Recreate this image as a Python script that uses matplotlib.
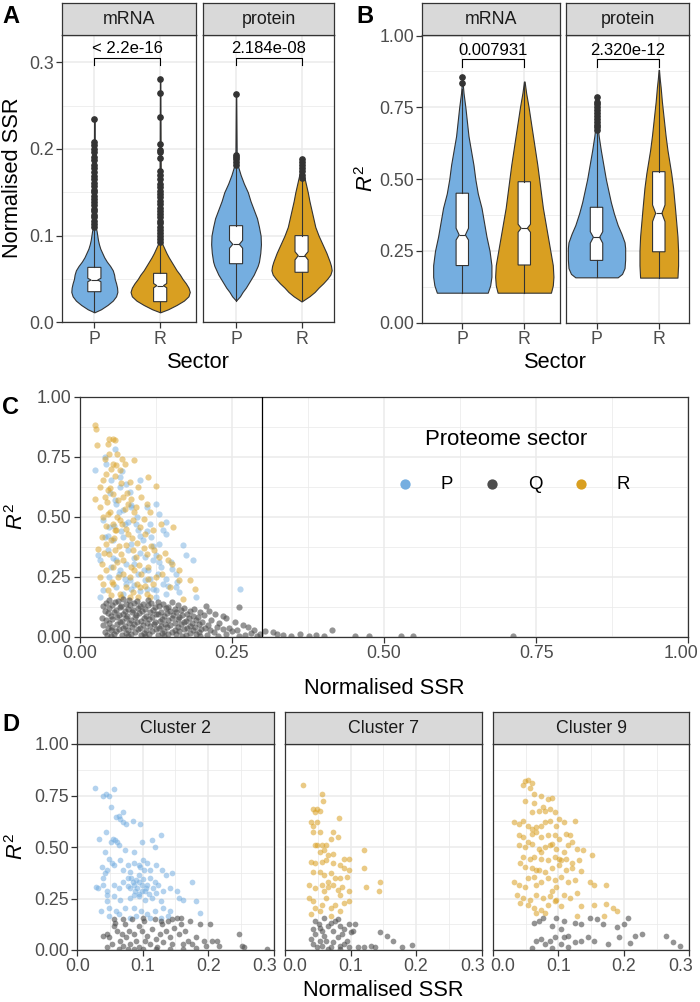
import matplotlib.pyplot as plt
from matplotlib.transforms import ScaledTranslation

plt.rcParams['font.family'] = ['Liberation Sans', 'DejaVu Sans']
plt.rcParams['mathtext.fontset'] = 'custom'
plt.rcParams['mathtext.rm'] = 'Liberation Sans'
plt.rcParams['mathtext.it'] = 'Liberation Sans:italic'

BLUE = '#75AEE0'
GOLD = '#D99F21'
QGREY = '#4D4D4D'
EDGE = '#333333'

# ---------------- data ----------------
sectors = ['P', 'R']
facets = ['mRNA', 'protein']
clusters = ['Cluster 2', 'Cluster 7', 'Cluster 9']

# violin profiles: (y levels, half widths in category units)
ssr_mrna_p_y = [0.0115, 0.015, 0.02, 0.025, 0.03, 0.035, 0.04, 0.045, 0.05, 0.055, 0.06, 0.065, 0.07,
                0.075, 0.08, 0.085, 0.09, 0.095, 0.10, 0.105, 0.11, 0.13, 0.17, 0.234]
ssr_mrna_p_w = [0.0, 0.10, 0.20, 0.28, 0.33, 0.35, 0.345, 0.33, 0.31, 0.30, 0.28, 0.24, 0.19,
                0.15, 0.12, 0.09, 0.07, 0.055, 0.045, 0.035, 0.02, 0.012, 0.008, 0.004]
ssr_mrna_r_y = [0.0115, 0.015, 0.02, 0.025, 0.03, 0.035, 0.04, 0.045, 0.05, 0.055, 0.06, 0.065, 0.07,
                0.075, 0.08, 0.085, 0.09, 0.095, 0.12, 0.2, 0.281]
ssr_mrna_r_w = [0.0, 0.12, 0.25, 0.36, 0.43, 0.45, 0.43, 0.39, 0.34, 0.30, 0.25, 0.21, 0.17,
                0.13, 0.095, 0.065, 0.035, 0.02, 0.012, 0.007, 0.003]
ssr_prot_p_y = [0.025, 0.03, 0.035, 0.04, 0.045, 0.05, 0.055, 0.06, 0.065, 0.07, 0.08, 0.09, 0.10,
                0.11, 0.12, 0.13, 0.14, 0.15, 0.16, 0.17, 0.18, 0.19, 0.263]
ssr_prot_p_w = [0.0, 0.06, 0.10, 0.15, 0.19, 0.23, 0.27, 0.30, 0.33, 0.35, 0.37, 0.38, 0.375,
                0.35, 0.32, 0.27, 0.22, 0.18, 0.12, 0.07, 0.03, 0.01, 0.003]
ssr_prot_r_y = [0.024, 0.03, 0.035, 0.04, 0.045, 0.05, 0.055, 0.06, 0.065, 0.07, 0.08, 0.09, 0.10,
                0.11, 0.12, 0.13, 0.14, 0.15, 0.16, 0.17, 0.18, 0.188]
ssr_prot_r_w = [0.0, 0.12, 0.20, 0.26, 0.33, 0.39, 0.44, 0.46, 0.45, 0.43, 0.38, 0.32, 0.26,
                0.21, 0.18, 0.15, 0.12, 0.095, 0.065, 0.035, 0.015, 0.005]

r2_mrna_p_y = [0.1045, 0.13, 0.16, 0.20, 0.25, 0.30, 0.35, 0.40, 0.45, 0.50, 0.55, 0.60, 0.65,
               0.70, 0.75, 0.80, 0.83, 0.855]
r2_mrna_p_w = [0.41, 0.45, 0.47, 0.47, 0.44, 0.39, 0.35, 0.31, 0.25, 0.21, 0.18, 0.14, 0.10,
               0.075, 0.05, 0.02, 0.008, 0.003]
r2_mrna_r_y = [0.1045, 0.13, 0.16, 0.20, 0.25, 0.30, 0.35, 0.40, 0.45, 0.50, 0.55, 0.60, 0.65,
               0.70, 0.75, 0.80, 0.84]
r2_mrna_r_w = [0.43, 0.46, 0.47, 0.46, 0.42, 0.38, 0.34, 0.30, 0.27, 0.24, 0.21, 0.175, 0.14,
               0.105, 0.07, 0.03, 0.005]
r2_prot_p_y = [0.158, 0.17, 0.19, 0.22, 0.26, 0.28, 0.31, 0.34, 0.38, 0.42, 0.46, 0.50, 0.55,
               0.60, 0.65, 0.68, 0.72, 0.785]
r2_prot_p_w = [0.34, 0.41, 0.45, 0.46, 0.46, 0.45, 0.40, 0.34, 0.28, 0.23, 0.19, 0.15, 0.11,
               0.07, 0.035, 0.02, 0.01, 0.005]
r2_prot_r_y = [0.157, 0.20, 0.25, 0.30, 0.35, 0.40, 0.47, 0.52, 0.56, 0.60, 0.65, 0.70, 0.77,
               0.82, 0.85, 0.88]
r2_prot_r_w = [0.30, 0.31, 0.31, 0.30, 0.28, 0.26, 0.23, 0.20, 0.17, 0.14, 0.11, 0.085, 0.05,
               0.03, 0.015, 0.003]

# box stats: whislo, q1, med, q3, whishi, notch low, notch high
ssr_mrna_p_box = [0.0115, 0.0353, 0.0488, 0.0634, 0.108, 0.0468, 0.0508]
ssr_mrna_r_box = [0.012, 0.0238, 0.0423, 0.0565, 0.092, 0.0398, 0.0448]
ssr_prot_p_box = [0.025, 0.0676, 0.090, 0.1115, 0.178, 0.0855, 0.0945]
ssr_prot_r_box = [0.024, 0.0577, 0.0769, 0.100, 0.164, 0.0720, 0.0815]
r2_mrna_p_box = [0.1045, 0.199, 0.3056, 0.451, 0.815, 0.288, 0.329]
r2_mrna_r_box = [0.1045, 0.201, 0.329, 0.491, 0.84, 0.315, 0.343]
r2_prot_p_box = [0.158, 0.217, 0.2975, 0.402, 0.66, 0.277, 0.317]
r2_prot_r_box = [0.157, 0.247, 0.381, 0.526, 0.88, 0.352, 0.41]

ssr_mrna_p_out = [0.110, 0.113, 0.117, 0.121, 0.124, 0.128, 0.131, 0.135, 0.139, 0.142, 0.146, 0.150,
                  0.153, 0.157, 0.161, 0.165, 0.169, 0.173, 0.178, 0.182, 0.187, 0.191, 0.196, 0.200,
                  0.205, 0.208, 0.234]
ssr_mrna_r_out = [0.093, 0.096, 0.100, 0.103, 0.107, 0.110, 0.114, 0.117, 0.121, 0.125, 0.128, 0.132,
                  0.136, 0.140, 0.144, 0.148, 0.152, 0.156, 0.160, 0.165, 0.170, 0.175, 0.190, 0.196,
                  0.199, 0.206, 0.237, 0.264, 0.281]
ssr_prot_p_out = [0.182, 0.185, 0.188, 0.191, 0.193, 0.263]
ssr_prot_r_out = [0.166, 0.170, 0.174, 0.178, 0.182, 0.185, 0.188]
r2_mrna_p_out = [0.835, 0.855]
r2_mrna_r_out = []
r2_prot_p_out = [0.67, 0.68, 0.69, 0.70, 0.71, 0.72, 0.73, 0.74, 0.75, 0.76, 0.77, 0.785]
r2_prot_r_out = []

ssr_pvals = ['< 2.2e-16', '2.184e-08']
r2_pvals = ['0.007931', '2.320e-12']

# panel C scatter (normalised SSR, R^2)
c_p = [(0.058, 0.783), (0.041, 0.749), (0.025, 0.696), (0.044, 0.721), (0.066, 0.665), (0.077, 0.638),
       (0.099, 0.651), (0.052, 0.651), (0.066, 0.624), (0.082, 0.603), (0.060, 0.554), (0.071, 0.526),
       (0.085, 0.540), (0.110, 0.540), (0.126, 0.554), (0.131, 0.513), (0.142, 0.478), (0.038, 0.485),
       (0.049, 0.457), (0.074, 0.471), (0.096, 0.443), (0.115, 0.471), (0.137, 0.443), (0.041, 0.415),
       (0.055, 0.401), (0.071, 0.415), (0.085, 0.388), (0.104, 0.401), (0.118, 0.415), (0.131, 0.388),
       (0.142, 0.429), (0.170, 0.381), (0.030, 0.339), (0.047, 0.360), (0.060, 0.318), (0.077, 0.304),
       (0.090, 0.304), (0.107, 0.332), (0.120, 0.318), (0.134, 0.290), (0.151, 0.283), (0.175, 0.339),
       (0.186, 0.318), (0.033, 0.318), (0.052, 0.290), (0.066, 0.276), (0.082, 0.235), (0.096, 0.263),
       (0.112, 0.276), (0.129, 0.263), (0.142, 0.242), (0.159, 0.263), (0.038, 0.193), (0.060, 0.207),
       (0.077, 0.221), (0.090, 0.214), (0.107, 0.235), (0.126, 0.193), (0.137, 0.221), (0.159, 0.207),
       (0.192, 0.165), (0.263, 0.200), (0.049, 0.249), (0.071, 0.179), (0.110, 0.200), (0.142, 0.179),
       (0.126, 0.165), (0.164, 0.186), (0.033, 0.165), (0.050, 0.600), (0.058, 0.570), (0.065, 0.520),
       (0.080, 0.480), (0.092, 0.470), (0.100, 0.420), (0.110, 0.440), (0.120, 0.380), (0.125, 0.340),
       (0.130, 0.310), (0.100, 0.350), (0.090, 0.330), (0.080, 0.360), (0.068, 0.440), (0.057, 0.460),
       (0.046, 0.420), (0.055, 0.330), (0.065, 0.260), (0.075, 0.240), (0.085, 0.200), (0.100, 0.190),
       (0.115, 0.240), (0.120, 0.200), (0.145, 0.210), (0.150, 0.310), (0.160, 0.230), (0.105, 0.280),
       (0.095, 0.500), (0.085, 0.550), (0.070, 0.690)]
c_r = [(0.025, 0.881), (0.027, 0.867), (0.028, 0.797), (0.049, 0.825), (0.055, 0.825), (0.058, 0.818),
       (0.047, 0.804), (0.090, 0.735), (0.041, 0.742), (0.025, 0.575), (0.033, 0.624), (0.038, 0.651),
       (0.044, 0.679), (0.052, 0.700), (0.060, 0.714), (0.066, 0.693), (0.074, 0.721), (0.082, 0.644),
       (0.096, 0.624), (0.112, 0.665), (0.126, 0.626), (0.033, 0.540), (0.041, 0.582), (0.047, 0.610),
       (0.055, 0.596), (0.063, 0.568), (0.071, 0.582), (0.079, 0.554), (0.085, 0.575), (0.093, 0.540),
       (0.101, 0.582), (0.110, 0.554), (0.115, 0.519), (0.038, 0.499), (0.047, 0.513), (0.055, 0.471),
       (0.060, 0.443), (0.066, 0.485), (0.077, 0.450), (0.088, 0.485), (0.099, 0.457), (0.107, 0.429),
       (0.120, 0.443), (0.134, 0.471), (0.153, 0.457), (0.036, 0.415), (0.044, 0.388), (0.052, 0.401),
       (0.058, 0.360), (0.068, 0.346), (0.077, 0.381), (0.088, 0.360), (0.093, 0.332), (0.110, 0.346),
       (0.123, 0.360), (0.131, 0.332), (0.145, 0.318), (0.151, 0.304), (0.164, 0.276), (0.036, 0.304),
       (0.044, 0.276), (0.055, 0.290), (0.063, 0.249), (0.071, 0.263), (0.082, 0.249), (0.090, 0.276),
       (0.101, 0.263), (0.112, 0.242), (0.126, 0.249), (0.148, 0.207), (0.164, 0.238), (0.181, 0.238),
       (0.189, 0.200), (0.038, 0.221), (0.047, 0.193), (0.055, 0.221), (0.066, 0.179), (0.077, 0.207),
       (0.088, 0.186), (0.099, 0.207), (0.110, 0.179), (0.120, 0.221), (0.030, 0.367), (0.049, 0.346),
       (0.068, 0.165), (0.082, 0.165), (0.096, 0.165), (0.115, 0.165), (0.170, 0.158), (0.052, 0.172),
       (0.058, 0.443), (0.033, 0.249), (0.045, 0.560), (0.050, 0.520), (0.062, 0.500), (0.070, 0.470),
       (0.075, 0.530), (0.080, 0.430), (0.086, 0.410), (0.095, 0.390), (0.105, 0.370), (0.057, 0.410),
       (0.064, 0.380), (0.072, 0.320), (0.085, 0.290), (0.098, 0.300), (0.113, 0.290), (0.118, 0.380),
       (0.105, 0.490), (0.090, 0.520), (0.078, 0.600), (0.068, 0.640), (0.058, 0.670), (0.050, 0.620),
       (0.043, 0.460), (0.040, 0.350), (0.053, 0.230), (0.062, 0.310), (0.094, 0.220), (0.108, 0.210),
       (0.135, 0.260), (0.140, 0.350), (0.048, 0.760), (0.062, 0.760), (0.070, 0.740), (0.055, 0.720)]
c_q = [(0.048, 0.152), (0.063, 0.147), (0.081, 0.155), (0.094, 0.149), (0.112, 0.153), (0.128, 0.146),
       (0.071, 0.158), (0.043, 0.139), (0.058, 0.143), (0.076, 0.137), (0.089, 0.142), (0.104, 0.136),
       (0.118, 0.141), (0.137, 0.138), (0.152, 0.144), (0.039, 0.128), (0.054, 0.132), (0.068, 0.126),
       (0.083, 0.131), (0.099, 0.127), (0.113, 0.133), (0.131, 0.129), (0.146, 0.125), (0.162, 0.132),
       (0.207, 0.128), (0.049, 0.118), (0.066, 0.122), (0.079, 0.116), (0.096, 0.121), (0.108, 0.117),
       (0.124, 0.123), (0.142, 0.119), (0.157, 0.115), (0.171, 0.121), (0.188, 0.117), (0.262, 0.124),
       (0.041, 0.108), (0.059, 0.112), (0.074, 0.106), (0.088, 0.111), (0.103, 0.107), (0.121, 0.113),
       (0.134, 0.105), (0.149, 0.109), (0.166, 0.112), (0.182, 0.106), (0.212, 0.109), (0.046, 0.098),
       (0.056, 0.102), (0.071, 0.096), (0.086, 0.101), (0.098, 0.097), (0.116, 0.103), (0.129, 0.095),
       (0.144, 0.099), (0.159, 0.102), (0.176, 0.096), (0.198, 0.101), (0.223, 0.094), (0.051, 0.088),
       (0.064, 0.092), (0.078, 0.086), (0.093, 0.091), (0.109, 0.087), (0.126, 0.093), (0.139, 0.085),
       (0.154, 0.089), (0.169, 0.092), (0.186, 0.086), (0.204, 0.091), (0.235, 0.088), (0.036, 0.078),
       (0.061, 0.082), (0.076, 0.076), (0.091, 0.081), (0.106, 0.077), (0.119, 0.083), (0.136, 0.075),
       (0.151, 0.079), (0.164, 0.082), (0.179, 0.076), (0.194, 0.081), (0.241, 0.077), (0.044, 0.068),
       (0.053, 0.072), (0.069, 0.066), (0.084, 0.071), (0.101, 0.067), (0.114, 0.073), (0.132, 0.065),
       (0.146, 0.069), (0.161, 0.072), (0.174, 0.066), (0.191, 0.071), (0.216, 0.068), (0.049, 0.058),
       (0.066, 0.062), (0.081, 0.056), (0.094, 0.061), (0.111, 0.057), (0.124, 0.063), (0.141, 0.055),
       (0.156, 0.059), (0.172, 0.062), (0.184, 0.056), (0.201, 0.061), (0.229, 0.058), (0.256, 0.062),
       (0.039, 0.048), (0.061, 0.052), (0.074, 0.046), (0.089, 0.051), (0.104, 0.047), (0.122, 0.053),
       (0.134, 0.045), (0.149, 0.049), (0.166, 0.052), (0.181, 0.046), (0.196, 0.051), (0.211, 0.048),
       (0.268, 0.047), (0.046, 0.038), (0.054, 0.042), (0.071, 0.036), (0.086, 0.041), (0.099, 0.037),
       (0.116, 0.043), (0.131, 0.035), (0.144, 0.039), (0.161, 0.042), (0.176, 0.036), (0.189, 0.041),
       (0.206, 0.038), (0.226, 0.042), (0.246, 0.036), (0.276, 0.039), (0.051, 0.028), (0.064, 0.032),
       (0.079, 0.026), (0.096, 0.031), (0.109, 0.027), (0.126, 0.033), (0.139, 0.025), (0.156, 0.029),
       (0.171, 0.032), (0.186, 0.026), (0.199, 0.031), (0.214, 0.028), (0.236, 0.032), (0.259, 0.027),
       (0.286, 0.030), (0.305, 0.025), (0.041, 0.018), (0.059, 0.022), (0.076, 0.016), (0.091, 0.021),
       (0.106, 0.017), (0.119, 0.023), (0.136, 0.015), (0.151, 0.019), (0.164, 0.022), (0.181, 0.016),
       (0.196, 0.021), (0.221, 0.018), (0.251, 0.022), (0.281, 0.017), (0.318, 0.020), (0.325, 0.012),
       (0.045, 0.009), (0.056, 0.012), (0.069, 0.007), (0.084, 0.011), (0.101, 0.008), (0.114, 0.012),
       (0.129, 0.006), (0.146, 0.010), (0.159, 0.012), (0.174, 0.007), (0.191, 0.011), (0.209, 0.008),
       (0.241, 0.011), (0.271, 0.007), (0.296, 0.010), (0.334, 0.008), (0.362, 0.011), (0.388, 0.007),
       (0.415, 0.030), (0.052, 0.002), (0.079, 0.003), (0.108, 0.002), (0.138, 0.003), (0.168, 0.002),
       (0.198, 0.003), (0.228, 0.002), (0.262, 0.003), (0.291, 0.002), (0.348, 0.003), (0.376, 0.002),
       (0.402, 0.003), (0.452, 0.002), (0.476, 0.004), (0.528, 0.003), (0.548, 0.002), (0.712, 0.002)]
c_cutoff = 0.3

# panel D scatter, one coloured and one Q list per cluster
d2_sector = [(0.027, 0.788), (0.039, 0.748), (0.044, 0.756), (0.049, 0.748), (0.056, 0.783), (0.051, 0.692),
             (0.059, 0.644), (0.063, 0.652), (0.066, 0.636), (0.070, 0.668), (0.070, 0.620), (0.074, 0.612),
             (0.085, 0.628), (0.096, 0.612), (0.033, 0.540), (0.044, 0.572), (0.054, 0.540), (0.058, 0.532),
             (0.061, 0.524), (0.051, 0.524), (0.063, 0.508), (0.073, 0.484), (0.087, 0.476), (0.099, 0.524),
             (0.114, 0.532), (0.118, 0.500), (0.128, 0.556), (0.042, 0.476), (0.049, 0.444), (0.053, 0.420),
             (0.038, 0.404), (0.046, 0.388), (0.040, 0.348), (0.056, 0.412), (0.065, 0.436), (0.070, 0.388),
             (0.077, 0.412), (0.080, 0.380), (0.087, 0.420), (0.094, 0.412), (0.100, 0.436), (0.107, 0.420),
             (0.096, 0.404), (0.102, 0.388), (0.111, 0.388), (0.121, 0.412), (0.129, 0.388), (0.136, 0.364),
             (0.145, 0.372), (0.039, 0.316), (0.029, 0.308), (0.032, 0.300), (0.046, 0.284), (0.056, 0.316),
             (0.063, 0.300), (0.070, 0.332), (0.077, 0.348), (0.080, 0.300), (0.087, 0.316), (0.094, 0.332),
             (0.099, 0.316), (0.104, 0.284), (0.111, 0.348), (0.118, 0.332), (0.124, 0.316), (0.131, 0.284),
             (0.141, 0.300), (0.152, 0.284), (0.155, 0.252), (0.128, 0.236), (0.114, 0.252), (0.104, 0.244),
             (0.094, 0.260), (0.087, 0.268), (0.080, 0.252), (0.066, 0.244), (0.056, 0.260), (0.046, 0.268),
             (0.036, 0.188), (0.049, 0.204), (0.059, 0.188), (0.073, 0.204), (0.087, 0.204), (0.097, 0.188),
             (0.107, 0.173), (0.118, 0.188), (0.131, 0.204), (0.141, 0.188), (0.182, 0.240), (0.188, 0.181),
             (0.162, 0.244), (0.176, 0.329), (0.049, 0.165), (0.063, 0.173), (0.080, 0.157), (0.090, 0.165),
             (0.111, 0.157), (0.128, 0.157), (0.138, 0.165), (0.046, 0.236), (0.042, 0.372), (0.094, 0.364),
             (0.099, 0.284), (0.121, 0.276), (0.107, 0.316), (0.090, 0.340), (0.085, 0.330), (0.092, 0.300),
             (0.100, 0.345), (0.105, 0.300), (0.088, 0.285), (0.095, 0.270), (0.078, 0.310), (0.110, 0.270),
             (0.115, 0.300), (0.082, 0.350)]
d2_q = [(0.040, 0.069), (0.046, 0.077), (0.049, 0.061), (0.053, 0.029), (0.056, 0.117), (0.058, 0.133),
        (0.061, 0.093), (0.065, 0.045), (0.068, 0.077), (0.070, 0.021), (0.073, 0.125), (0.075, 0.061),
        (0.079, 0.093), (0.081, 0.029), (0.083, 0.149), (0.087, 0.077), (0.090, 0.045), (0.094, 0.117),
        (0.095, 0.013), (0.099, 0.093), (0.102, 0.141), (0.104, 0.045), (0.107, 0.069), (0.111, 0.029),
        (0.114, 0.101), (0.118, 0.149), (0.120, 0.053), (0.122, 0.013), (0.126, 0.077), (0.129, 0.125),
        (0.131, 0.037), (0.135, 0.093), (0.138, 0.141), (0.141, 0.061), (0.145, 0.029), (0.148, 0.109),
        (0.152, 0.157), (0.155, 0.077), (0.159, 0.125), (0.162, 0.029), (0.165, 0.093), (0.169, 0.045),
        (0.172, 0.141), (0.176, 0.029), (0.182, 0.061), (0.188, 0.125), (0.193, 0.045), (0.196, 0.021),
        (0.203, 0.125), (0.206, 0.045), (0.213, 0.045), (0.217, 0.021), (0.247, 0.077), (0.251, 0.021),
        (0.254, 0.016), (0.290, 0.005), (0.046, 0.013), (0.063, 0.005), (0.077, 0.005), (0.087, 0.005),
        (0.100, 0.005), (0.121, 0.005), (0.141, 0.005), (0.162, 0.005), (0.182, 0.010), (0.056, 0.149),
        (0.070, 0.149), (0.100, 0.157), (0.145, 0.149), (0.159, 0.153), (0.128, 0.141)]
d7_sector = [(0.027, 0.799), (0.056, 0.756), (0.058, 0.724), (0.042, 0.684), (0.049, 0.684), (0.046, 0.668),
             (0.053, 0.676), (0.082, 0.639), (0.039, 0.620), (0.042, 0.604), (0.049, 0.620), (0.053, 0.572),
             (0.042, 0.572), (0.073, 0.572), (0.046, 0.508), (0.049, 0.508), (0.056, 0.508), (0.063, 0.508),
             (0.070, 0.540), (0.080, 0.548), (0.053, 0.476), (0.059, 0.484), (0.066, 0.460), (0.073, 0.468),
             (0.090, 0.444), (0.097, 0.444), (0.121, 0.484), (0.039, 0.428), (0.046, 0.420), (0.056, 0.428),
             (0.063, 0.436), (0.073, 0.420), (0.083, 0.412), (0.090, 0.396), (0.097, 0.388), (0.121, 0.396),
             (0.042, 0.380), (0.053, 0.380), (0.059, 0.364), (0.070, 0.372), (0.076, 0.348), (0.083, 0.348),
             (0.094, 0.356), (0.145, 0.329), (0.143, 0.288), (0.124, 0.308), (0.036, 0.316), (0.046, 0.300),
             (0.056, 0.316), (0.066, 0.332), (0.073, 0.316), (0.080, 0.292), (0.087, 0.308), (0.097, 0.284),
             (0.042, 0.236), (0.056, 0.220), (0.070, 0.204), (0.076, 0.220), (0.090, 0.228), (0.097, 0.236),
             (0.046, 0.204), (0.083, 0.188), (0.063, 0.252), (0.070, 0.165), (0.039, 0.173), (0.036, 0.252),
             (0.053, 0.188), (0.059, 0.284), (0.083, 0.268), (0.066, 0.308)]
d7_q = [(0.046, 0.141), (0.051, 0.125), (0.053, 0.109), (0.056, 0.093), (0.046, 0.077), (0.059, 0.069),
        (0.063, 0.045), (0.066, 0.117), (0.070, 0.133), (0.073, 0.093), (0.076, 0.141), (0.080, 0.061),
        (0.083, 0.117), (0.087, 0.077), (0.090, 0.101), (0.094, 0.045), (0.097, 0.125), (0.100, 0.085),
        (0.107, 0.125), (0.042, 0.029), (0.049, 0.013), (0.056, 0.021), (0.070, 0.013), (0.083, 0.021),
        (0.097, 0.013), (0.111, 0.016), (0.121, 0.013), (0.131, 0.021), (0.138, 0.013), (0.145, 0.085),
        (0.155, 0.069), (0.164, 0.045), (0.179, 0.013), (0.194, 0.024), (0.104, 0.093), (0.073, 0.037),
        (0.090, 0.029), (0.059, 0.157), (0.080, 0.149), (0.042, 0.101), (0.053, 0.045), (0.039, 0.053),
        (0.083, 0.005), (0.066, 0.005)]
d9_sector = [(0.046, 0.799), (0.049, 0.819), (0.054, 0.827), (0.060, 0.812), (0.056, 0.788), (0.063, 0.756),
             (0.073, 0.748), (0.084, 0.732), (0.090, 0.740), (0.049, 0.724), (0.063, 0.716), (0.077, 0.692),
             (0.070, 0.676), (0.060, 0.668), (0.080, 0.676), (0.087, 0.684), (0.094, 0.668), (0.101, 0.636),
             (0.032, 0.620), (0.039, 0.612), (0.046, 0.628), (0.053, 0.604), (0.060, 0.588), (0.066, 0.596),
             (0.073, 0.604), (0.080, 0.620), (0.087, 0.628), (0.097, 0.604), (0.108, 0.620), (0.125, 0.628),
             (0.039, 0.556), (0.046, 0.548), (0.053, 0.524), (0.060, 0.564), (0.066, 0.572), (0.073, 0.548),
             (0.084, 0.556), (0.094, 0.556), (0.101, 0.540), (0.111, 0.564), (0.118, 0.556), (0.039, 0.508),
             (0.049, 0.500), (0.060, 0.516), (0.070, 0.492), (0.080, 0.500), (0.090, 0.516), (0.097, 0.492),
             (0.108, 0.476), (0.114, 0.508), (0.128, 0.492), (0.138, 0.484), (0.046, 0.452), (0.056, 0.444),
             (0.063, 0.452), (0.073, 0.444), (0.084, 0.436), (0.094, 0.452), (0.104, 0.436), (0.111, 0.444),
             (0.121, 0.420), (0.132, 0.436), (0.152, 0.460), (0.049, 0.404), (0.060, 0.396), (0.070, 0.388),
             (0.080, 0.380), (0.090, 0.396), (0.101, 0.412), (0.111, 0.388), (0.121, 0.396), (0.135, 0.383),
             (0.053, 0.348), (0.063, 0.356), (0.073, 0.332), (0.084, 0.348), (0.094, 0.340), (0.104, 0.356),
             (0.114, 0.332), (0.125, 0.340), (0.149, 0.332), (0.155, 0.316), (0.173, 0.316), (0.036, 0.268),
             (0.046, 0.252), (0.056, 0.244), (0.066, 0.268), (0.077, 0.252), (0.087, 0.260), (0.097, 0.244),
             (0.108, 0.268), (0.118, 0.252), (0.128, 0.276), (0.042, 0.228), (0.053, 0.220), (0.063, 0.204),
             (0.073, 0.196), (0.084, 0.220), (0.094, 0.236), (0.104, 0.212), (0.135, 0.212), (0.155, 0.220),
             (0.173, 0.224), (0.183, 0.204), (0.190, 0.188), (0.066, 0.181), (0.080, 0.181), (0.128, 0.165),
             (0.169, 0.165), (0.032, 0.332), (0.039, 0.316), (0.049, 0.308), (0.097, 0.308), (0.066, 0.316),
             (0.090, 0.284), (0.066, 0.388), (0.042, 0.420), (0.087, 0.508), (0.073, 0.476), (0.101, 0.444),
             (0.121, 0.524)]
d9_q = [(0.063, 0.133), (0.070, 0.141), (0.077, 0.157), (0.090, 0.117), (0.097, 0.157), (0.104, 0.101),
        (0.108, 0.141), (0.125, 0.133), (0.135, 0.125), (0.149, 0.157), (0.159, 0.149), (0.168, 0.125),
        (0.190, 0.112), (0.200, 0.125), (0.207, 0.157), (0.066, 0.045), (0.073, 0.053), (0.080, 0.029),
        (0.087, 0.045), (0.094, 0.061), (0.108, 0.061), (0.114, 0.069), (0.125, 0.037), (0.135, 0.045),
        (0.145, 0.061), (0.155, 0.045), (0.176, 0.029), (0.193, 0.061), (0.210, 0.032), (0.217, 0.069),
        (0.227, 0.077), (0.265, 0.069), (0.275, 0.037), (0.286, 0.021), (0.090, 0.010), (0.114, 0.013),
        (0.060, 0.010), (0.104, 0.029)]

# ---------------- drawing ----------------
fig = plt.figure(figsize=(7, 10.02), dpi=100)
W, H = 700.0, 1002.0


def px_axes(left, top, right, bottom):
    return fig.add_axes([left / W, 1 - bottom / H, (right - left) / W, (bottom - top) / H])


def ftext(x, y, s, **kw):
    fig.text(x / W, 1 - y / H, s, **kw)


def style(ax, xmaj, xmin, ymaj, ymin):
    ax.set_xticks(xmaj)
    ax.set_xticks(xmin, minor=True)
    ax.set_yticks(ymaj)
    ax.set_yticks(ymin, minor=True)
    ax.grid(which='major', color='#EBEBEB', lw=1.1)
    ax.grid(which='minor', color='#EBEBEB', lw=0.55)
    ax.set_axisbelow(True)
    for s in ax.spines.values():
        s.set_color(EDGE)
        s.set_linewidth(0.9)
    ax.tick_params(which='major', length=4, width=0.9, color=EDGE, labelsize=12.8, labelcolor='#4D4D4D', pad=2)
    ax.tick_params(which='minor', length=0)


def nudge(label, ha, dx_px):
    # shift one tick label sideways so neighbouring facet labels just touch
    label.set_horizontalalignment(ha)
    label.set_transform(label.get_transform() + ScaledTranslation(dx_px / 100, 0, fig.dpi_scale_trans))


def strip(left, top, right, bottom, label):
    s = px_axes(left, top, right, bottom)
    s.set_facecolor('#D9D9D9')
    s.set_xticks([])
    s.set_yticks([])
    for sp in s.spines.values():
        sp.set_color(EDGE)
        sp.set_linewidth(0.9)
    s.text(0.5, 0.48, label, ha='center', va='center', fontsize=12.8, color='#1A1A1A', transform=s.transAxes)


def violin(ax, pos, ys, ws, color):
    ax.fill_betweenx(ys, [pos - w for w in ws], [pos + w for w in ws],
                     facecolor=color, edgecolor=EDGE, lw=0.8, zorder=2)


def box(ax, pos, st, fliers):
    stats = [dict(whislo=st[0], q1=st[1], med=st[2], q3=st[3], whishi=st[4],
                  cilo=st[5], cihi=st[6], fliers=fliers)]
    ax.bxp(stats, positions=[pos], widths=0.2, shownotches=True, patch_artist=True,
           showcaps=False, manage_ticks=False, zorder=3,
           boxprops=dict(facecolor='white', edgecolor=EDGE, lw=0.8),
           medianprops=dict(color=EDGE, lw=0.8),
           whiskerprops=dict(color=EDGE, lw=0.8),
           flierprops=dict(marker='o', markerfacecolor=EDGE, markeredgecolor=EDGE, markersize=3.8))


def bracket(ax, y_line, y_tick, y_text, label):
    ax.plot([1, 1, 2, 2], [y_tick, y_line, y_line, y_tick], color='black', lw=0.8, zorder=4)
    ax.text(1.5, y_text, label, ha='center', va='center', fontsize=12, color='black')


# ---- panel A ----
a_rects = [(62.3, 195.7, (0.513, 2.54)), (203.3, 334.3, (0.5, 2.5))]
a_data = [
    [(ssr_mrna_p_y, ssr_mrna_p_w, ssr_mrna_p_box, ssr_mrna_p_out),
     (ssr_mrna_r_y, ssr_mrna_r_w, ssr_mrna_r_box, ssr_mrna_r_out)],
    [(ssr_prot_p_y, ssr_prot_p_w, ssr_prot_p_box, ssr_prot_p_out),
     (ssr_prot_r_y, ssr_prot_r_w, ssr_prot_r_box, ssr_prot_r_out)],
]
for i, (l, r, xl) in enumerate(a_rects):
    ax = px_axes(l, 35, r, 322.3)
    style(ax, [1, 2], [], [0, 0.1, 0.2, 0.3], [0.05, 0.15, 0.25])
    for j, (ys, ws, st, out) in enumerate(a_data[i]):
        violin(ax, j + 1, ys, ws, [BLUE, GOLD][j])
        box(ax, j + 1, st, out)
    bracket(ax, 0.305, 0.297, 0.3155, ssr_pvals[i])
    ax.set_xlim(*xl)
    ax.set_ylim(0, 0.3315)
    ax.set_xticklabels(sectors)
    if i == 0:
        ax.set_yticklabels(['0.0', '0.1', '0.2', '0.3'])
    else:
        ax.tick_params(axis='y', length=0, labelleft=False)
    strip(l, 3.3, r, 35, facets[i])

# ---- panel B ----
b_rects = [(422.3, 560.0, (0.355, 2.576)), (566.0, 689.3, (0.51, 2.49))]
b_data = [
    [(r2_mrna_p_y, r2_mrna_p_w, r2_mrna_p_box, r2_mrna_p_out),
     (r2_mrna_r_y, r2_mrna_r_w, r2_mrna_r_box, r2_mrna_r_out)],
    [(r2_prot_p_y, r2_prot_p_w, r2_prot_p_box, r2_prot_p_out),
     (r2_prot_r_y, r2_prot_r_w, r2_prot_r_box, r2_prot_r_out)],
]
for i, (l, r, xl) in enumerate(b_rects):
    ax = px_axes(l, 35, r, 322.7)
    style(ax, [1, 2], [], [0, 0.25, 0.5, 0.75, 1.0], [0.125, 0.375, 0.625, 0.875])
    for j, (ys, ws, st, out) in enumerate(b_data[i]):
        violin(ax, j + 1, ys, ws, [BLUE, GOLD][j])
        box(ax, j + 1, st, out)
    bracket(ax, 0.919, 0.892, 0.948, r2_pvals[i])
    ax.set_xlim(*xl)
    ax.set_ylim(0, 1.002)
    ax.set_xticklabels(sectors)
    if i == 0:
        ax.set_yticklabels(['0.00', '0.25', '0.50', '0.75', '1.00'])
    else:
        ax.tick_params(axis='y', length=0, labelleft=False)
    strip(l, 3.3, r, 35, facets[i])

ftext(198.3, 362, 'Sector', ha='center', va='center', fontsize=15.7)
ftext(555.8, 362, 'Sector', ha='center', va='center', fontsize=15.7)
ftext(13, 178, 'Normalised SSR', ha='center', va='center', rotation=90, fontsize=15.7)
ftext(367, 179, '$R^2$', ha='center', va='center', rotation=90, fontsize=15.7)

# ---- panel C ----
axc = px_axes(79.6, 396.7, 688.4, 636.7)
style(axc, [0, 0.25, 0.5, 0.75, 1.0], [0.125, 0.375, 0.625, 0.875],
      [0, 0.25, 0.5, 0.75, 1.0], [0.125, 0.375, 0.625, 0.875])
for pts, col, a in [(c_p, BLUE, 0.5), (c_r, GOLD, 0.5), (c_q, QGREY, 0.6)]:
    axc.scatter([p[0] for p in pts], [p[1] for p in pts], s=20, color=col, alpha=a, lw=0, zorder=2)
axc.axvline(c_cutoff, color='black', lw=0.9, zorder=3)
axc.set_xlim(0, 1)
axc.set_ylim(0, 1)
axc.set_xticklabels(['0.00', '0.25', '0.50', '0.75', '1.00'])
axc.set_yticklabels(['0.00', '0.25', '0.50', '0.75', '1.00'])
nudge(axc.get_xticklabels()[-1], 'right', 10)
handles = [axc.scatter([], [], s=55, color=c, lw=0) for c in [BLUE, QGREY, GOLD]]
axc.legend(handles, ['P', 'Q', 'R'], ncol=3, frameon=False, loc='center',
           bbox_to_anchor=(0.712, 0.636), fontsize=13.4, handletextpad=1.4, columnspacing=1.6,
           handlelength=1.0, borderpad=0)
axc.text(0.70, 0.82, 'Proteome sector', transform=axc.transAxes, ha='center', va='center', fontsize=15.9)
ftext(384, 688, 'Normalised SSR', ha='center', va='center', fontsize=15.7)
ftext(17, 516.7, '$R^2$', ha='center', va='center', rotation=90, fontsize=15.7)

# ---- panel D ----
d_lefts = [77.3, 285.2, 493.0]
d_sets = [(d2_sector, BLUE, d2_q), (d7_sector, GOLD, d7_q), (d9_sector, GOLD, d9_q)]
for i, l in enumerate(d_lefts):
    r = l + 196.3
    ax = px_axes(l, 744, r, 950)
    style(ax, [0, 0.1, 0.2, 0.3], [0.05, 0.15, 0.25],
          [0, 0.25, 0.5, 0.75, 1.0], [0.125, 0.375, 0.625, 0.875])
    pts, col, q = d_sets[i]
    ax.scatter([p[0] for p in pts], [p[1] for p in pts], s=17, color=col, alpha=0.55, lw=0, zorder=2)
    ax.scatter([p[0] for p in q], [p[1] for p in q], s=17, color=QGREY, alpha=0.6, lw=0, zorder=2)
    ax.set_xlim(0, 0.3)
    ax.set_ylim(0, 1)
    ax.set_xticklabels(['0.0', '0.1', '0.2', '0.3'])
    labels = ax.get_xticklabels()
    nudge(labels[-1], 'right', 4 if i == 2 else 3)
    if i > 0:
        nudge(labels[0], 'left', -3)
    if i == 0:
        ax.set_yticklabels(['0.00', '0.25', '0.50', '0.75', '1.00'])
    else:
        ax.tick_params(axis='y', length=0, labelleft=False)
    strip(l, 712, r, 744, clusters[i])

ftext(383, 991, 'Normalised SSR', ha='center', va='center', fontsize=15.7)
ftext(17, 847, '$R^2$', ha='center', va='center', rotation=90, fontsize=15.7)

# panel letters
for lab, x, y in [('A', 2, 5), ('B', 356, 5), ('C', 2, 396), ('D', 2, 713)]:
    ftext(x, y, lab, ha='left', va='top', fontsize=17, fontweight='bold')

fig.savefig('out.png', dpi=100)
